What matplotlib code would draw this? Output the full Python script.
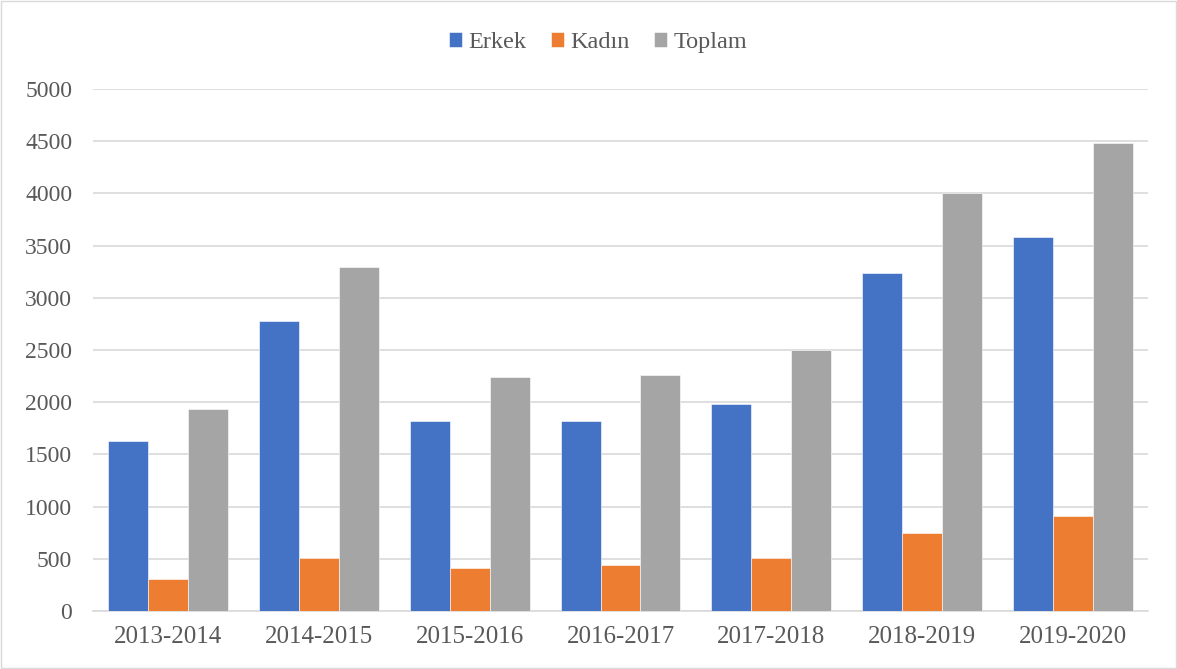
import matplotlib.pyplot as plt
import numpy as np
from matplotlib.patches import Rectangle

years = ['2013-2014', '2014-2015', '2015-2016', '2016-2017',
         '2017-2018', '2018-2019', '2019-2020']
erkek = [1626, 2778, 1818, 1818, 1985, 3242, 3580]
kadin = [304, 512, 416, 438, 511, 750, 906]
toplam = [1939, 3296, 2240, 2257, 2502, 4005, 4487]

plt.rcParams['font.family'] = ['Liberation Serif', 'DejaVu Serif']

fig = plt.figure(figsize=(11.77, 6.69), dpi=100)
ax = fig.add_axes([93 / 1177, 1 - 611 / 669, (1148 - 93) / 1177, (611 - 89) / 669])

x = np.arange(len(years))
w = 0.265
ax.bar(x - w, erkek, w, color='#4472c4', label='Erkek', edgecolor='white', linewidth=0.4, zorder=3)
ax.bar(x, kadin, w, color='#ed7d31', label='Kadın', edgecolor='white', linewidth=0.4, zorder=3)
ax.bar(x + w, toplam, w, color='#a5a5a5', label='Toplam', edgecolor='white', linewidth=0.4, zorder=3)

ax.set_xlim(-0.5, len(years) - 0.5)
ax.set_ylim(0, 5000)
ax.set_yticks(range(0, 5001, 500))
ax.set_xticks(x)
ax.set_xticklabels(years)
ax.yaxis.grid(True, color='#d9d9d9', linewidth=1.2, zorder=0)
ax.set_axisbelow(True)
for s in ['top', 'right', 'left']:
    ax.spines[s].set_visible(False)
ax.spines['bottom'].set_color('#d9d9d9')
ax.spines['bottom'].set_linewidth(1.2)
ax.tick_params(axis='both', length=0, labelsize=17, colors='#595959')
ax.tick_params(axis='x', labelsize=18, pad=11)
ax.tick_params(axis='y', pad=15)

fig.legend(loc='upper center', bbox_to_anchor=(0.508, 0.985), ncol=3, frameon=False,
           fontsize=17.5, handlelength=0.55, handleheight=0.55, handletextpad=0.25,
           columnspacing=1.0, labelcolor='#595959')

fig.patches.append(Rectangle((0.001, 0.001), 0.998, 0.997, transform=fig.transFigure,
                             fill=False, edgecolor='#d9d9d9', linewidth=1))

fig.savefig('out.png', dpi=100)
